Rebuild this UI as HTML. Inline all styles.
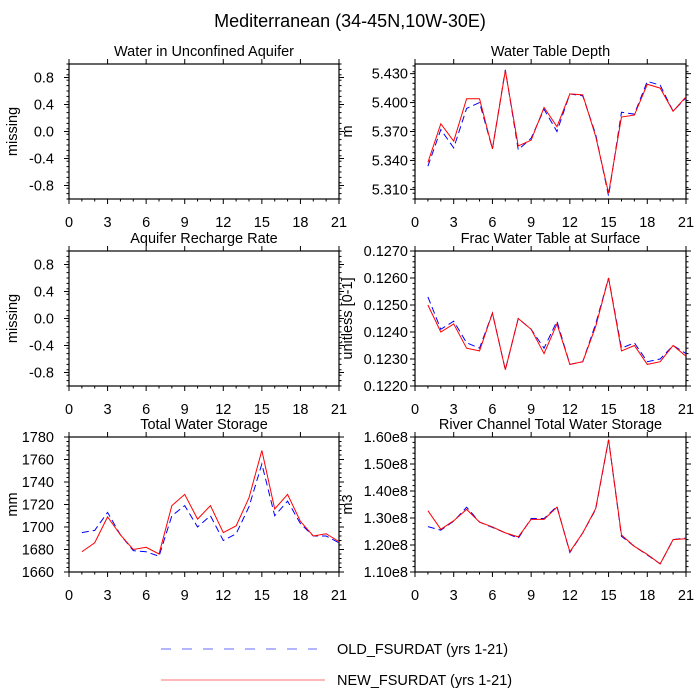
<!DOCTYPE html>
<html><head><meta charset="utf-8"><style>
body{margin:0;background:#fff}
svg{display:block;font-family:"Liberation Sans",sans-serif}
</style></head><body>
<svg id="c" width="700" height="700">
<text x="350" y="27" font-size="18" text-anchor="middle">Mediterranean (34-45N,10W-30E)</text>
<g>
<line x1="161" y1="649" x2="317" y2="649" stroke="#6a6aff" stroke-width="1" stroke-dasharray="10,11"/>
<text x="337" y="654" font-size="14.5">OLD_FSURDAT (yrs 1-21)</text>
<line x1="161" y1="680" x2="325" y2="680" stroke="#ff7070" stroke-width="1"/>
<text x="337" y="685" font-size="14.5">NEW_FSURDAT (yrs 1-21)</text>
</g>
</svg>
<script>
const years=[1,2,3,4,5,6,7,8,9,10,11,12,13,14,15,16,17,18,19,20,21];
const xTicks=[0,3,6,9,12,15,18,21];
const wtdNew=[5.338,5.378,5.360,5.404,5.404,5.352,5.433,5.355,5.361,5.395,5.375,5.409,5.408,5.365,5.306,5.385,5.387,5.419,5.415,5.391,5.406];
const wtdOld=[5.334,5.372,5.353,5.394,5.400,5.352,5.434,5.351,5.363,5.393,5.370,5.409,5.407,5.367,5.303,5.390,5.388,5.422,5.418,5.391,5.405];
const fracNew=[.1250,.1240,.1243,.1234,.1233,.1247,.1226,.1245,.1241,.1232,.1243,.1228,.1229,.1242,.1260,.1233,.1235,.1228,.1229,.1235,.1231];
const fracOld=[.1253,.1241,.1244,.1236,.1234,.1247,.1226,.1245,.1241,.1234,.1244,.1228,.1229,.1243,.1260,.1234,.1236,.1229,.1230,.1235,.1232];
const twsNew=[1678,1686,1709,1693,1680,1682,1676,1719,1729,1707,1719,1695,1701,1726,1768,1716,1729,1705,1692,1694,1687];
const twsOld=[1695,1697,1713,1693,1679,1678,1674,1710,1719,1700,1710,1688,1694,1718,1756,1710,1723,1703,1692,1692,1686];
const rivNew=[1.327,1.258,1.290,1.332,1.285,1.267,1.245,1.230,1.295,1.295,1.340,1.175,1.245,1.335,1.590,1.237,1.195,1.165,1.130,1.220,1.223];
const rivOld=[1.268,1.255,1.288,1.340,1.285,1.265,1.245,1.225,1.298,1.298,1.343,1.172,1.245,1.332,1.590,1.232,1.195,1.163,1.130,1.220,1.226];
const missTicks=[-0.8,-0.4,0.0,0.4,0.8];
const wtdTicks=[5.310,5.340,5.370,5.400,5.430];
const fracTicks=[0.1220,0.1230,0.1240,0.1250,0.1260,0.1270];
const twsTicks=[1660,1680,1700,1720,1740,1760,1780];
const rivTicks=[1.10,1.20,1.30,1.40,1.50,1.60];

const svg=document.getElementById('c');
const NS='http://www.w3.org/2000/svg';
function mk(tag,attrs,parent){const e=document.createElementNS(NS,tag);for(const k in attrs)e.setAttribute(k,attrs[k]);(parent||svg).appendChild(e);return e;}

function panel(o){
  const g=mk('g',{});
  
  
  const L=o.x0,R=o.x1,T=o.y0,B=o.y1;
  const sx=v=>L+(v-0)/(21-0)*(R-L);
  const sy=v=>B-(v-o.ymin)/(o.ymax-o.ymin)*(B-T);
  const fr=mk('rect',{x:L,y:T,width:R-L,height:B-T,fill:'none',stroke:'#000','stroke-width':1.2},g);
  
  
  xTicks.forEach(t=>{
    const x=sx(t);
    mk('line',{x1:x,y1:B,x2:x,y2:B+5,stroke:'#000'},g);
    mk('line',{x1:x,y1:T,x2:x,y2:T-5,stroke:'#000'},g);
    const tl=mk('text',{x:x,y:B+28,'font-size':14.5,'text-anchor':'middle'},g);
    tl.textContent=t;
    
    
  });
  for(let t=1;t<21;t++){if(t%3){const x=sx(t);mk('line',{x1:x,y1:B,x2:x,y2:B+2.5,stroke:'#000'},g);}}
  const step=o.ticks[1]-o.ticks[0];
  o.ticks.forEach(t=>{
    const y=sy(t);
    mk('line',{x1:L,y1:y,x2:L-5,y2:y,stroke:'#000'},g);
    mk('line',{x1:R,y1:y,x2:R+5,y2:y,stroke:'#000'},g);
    const tl=mk('text',{x:o.labx,y:y+5,'font-size':14.5,'text-anchor':'end'},g);
    tl.textContent=o.fmt(t);
    
    
  });
  const ms=step/5;
  for(let v=o.ymin;v<=o.ymax+1e-12;v+=ms){const y=sy(v);
    mk('line',{x1:L,y1:y,x2:L-2.5,y2:y,stroke:'#000'},g);
    mk('line',{x1:R,y1:y,x2:R+2.5,y2:y,stroke:'#000'},g);}
  const tt=mk('text',{x:(L+R)/2,y:T-8,'font-size':14.5,'text-anchor':'middle'},g);
  tt.textContent=o.title;
  
  
  const yl=mk('text',{x:o.ylx,y:(T+B)/2,'font-size':14.5,'text-anchor':'middle',transform:`rotate(-90 ${o.ylx} ${(T+B)/2})`},g);
  yl.textContent=o.ylabel;
  
  
  if(o.old){
    const p=mk('polyline',{points:years.map((y,i)=>sx(y)+','+sy(o.old[i])).join(' '),fill:'none',stroke:'#0000ff','stroke-width':1,'stroke-dasharray':'7,4'},g);
    
    
    const q=mk('polyline',{points:years.map((y,i)=>sx(y)+','+sy(o.nw[i])).join(' '),fill:'none',stroke:'#ff0000','stroke-width':1},g);
    
    
  }
}
const LX0=69,LX1=339,RX0=415,RX1=686;
panel({name:'panel-water-unconfined-aquifer',x0:LX0,x1:LX1,y0:64,y1:199,ymin:-1,ymax:1,ticks:missTicks,fmt:v=>v.toFixed(1),labx:54,ylx:17,ylabel:'missing',title:'Water in Unconfined Aquifer'});
panel({name:'panel-water-table-depth',x0:RX0,x1:RX1,y0:64,y1:199,ymin:5.30,ymax:5.44,ticks:wtdTicks,fmt:v=>v.toFixed(3),labx:408,ylx:352,ylabel:'m',title:'Water Table Depth',old:wtdOld,nw:wtdNew});
panel({name:'panel-aquifer-recharge',x0:LX0,x1:LX1,y0:251,y1:386,ymin:-1,ymax:1,ticks:missTicks,fmt:v=>v.toFixed(1),labx:54,ylx:17,ylabel:'missing',title:'Aquifer Recharge Rate'});
panel({name:'panel-frac-water-table',x0:RX0,x1:RX1,y0:251,y1:386,ymin:0.122,ymax:0.127,ticks:fracTicks,fmt:v=>v.toFixed(4),labx:408,ylx:352,ylabel:'unitless [0-1]',title:'Frac Water Table at Surface',old:fracOld,nw:fracNew});
panel({name:'panel-total-water-storage',x0:LX0,x1:LX1,y0:437,y1:572,ymin:1660,ymax:1780,ticks:twsTicks,fmt:v=>v.toFixed(0),labx:54,ylx:17,ylabel:'mm',title:'Total Water Storage',old:twsOld,nw:twsNew});
panel({name:'panel-river-channel-storage',x0:RX0,x1:RX1,y0:437,y1:572,ymin:1.10,ymax:1.60,ticks:rivTicks,fmt:v=>v.toFixed(2)+'e8',labx:408,ylx:352,ylabel:'m3',title:'River Channel Total Water Storage',old:rivOld,nw:rivNew});
</script>
</body></html>
